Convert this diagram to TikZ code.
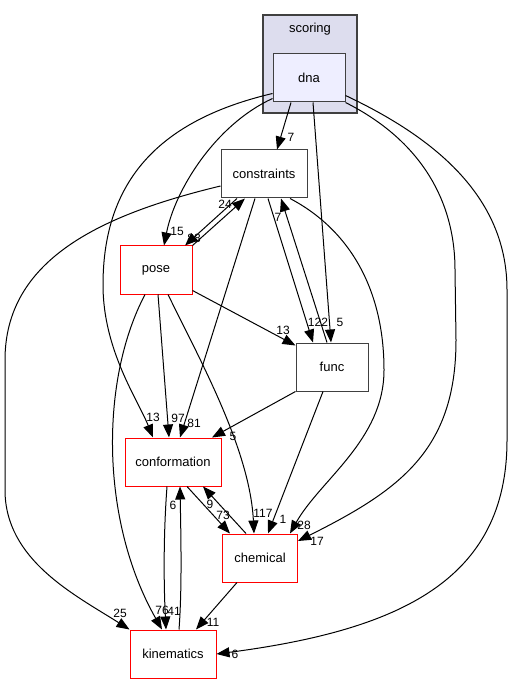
\documentclass[tikz,border=0pt]{standalone}
\usepackage{fontspec}
\setmainfont{Liberation Sans}
\usetikzlibrary{arrows.meta}

\definecolor{clusterfill}{HTML}{DDDDEE}
\definecolor{dirfill}{HTML}{EEEEFF}
\definecolor{dirline}{HTML}{404040}

\tikzset{
  dir/.style={draw=dirline, line width=1pt, fill=white, inner sep=0pt,
    minimum height=48pt, font=\fontsize{13}{15}\selectfont},
  reddir/.style={dir, draw=red},
  dep/.style={line width=1pt, -{Triangle[length=13pt,width=10pt]}},
  num/.style={inner sep=0pt, font=\fontsize{12}{14}\selectfont},
}

\begin{document}
\begin{tikzpicture}[x=1pt, y=-1pt]

  \useasboundingbox (0,0) rectangle (512,684);

  % the scoring folder
  \node[draw=dirline, line width=1.2pt, fill=clusterfill,
        minimum width=94pt, minimum height=98pt] (scoring) at (310,64) {};
  \node[font=\fontsize{13}{15}\selectfont] (scoringname) at (310,29) {scoring};

  \node[dir, fill=dirfill, minimum width=72pt] (dna)          at (309,78)  {dna}          ;
  \node[dir,    minimum width=86pt]            (constraints)  at (264,174) {constraints}  ;
  \node[reddir, minimum width=72pt]            (pose)         at (156,270) {pose}         ;
  \node[dir,    minimum width=72pt]            (func)         at (332,367) {func}         ;
  \node[reddir, minimum width=96pt]            (conformation) at (173,462) {conformation} ;
  \node[reddir, minimum width=75pt]            (chemical)     at (260,558) {chemical}     ;
  \node[reddir, minimum width=86pt]            (kinematics)   at (173,654) {kinematics}   ;

  % out of dna
  \draw[dep] ([xshift=-18pt]dna.south) -- ([xshift=13pt]constraints.north);
  \draw[dep] ([yshift=4pt]dna.south west)
    .. controls (215,125) and (175,190) .. ([xshift=8pt]pose.north);
  \draw[dep] ([yshift=9pt]dna.south west)
    .. controls (160,120) and (103,180) .. (103,285)
    .. controls (103,350) and (138,400) .. ([xshift=-20pt]conformation.north);
  \draw[dep] ([xshift=4pt]dna.south) -- ([xshift=-1pt]func.north);
  \draw[dep] (dna.south east)
    .. controls (420,140) and (455,200) .. (455,270) -- (456,340)
    .. controls (456,450) and (400,490) .. ([yshift=17pt]chemical.east);
  \draw[dep] ([yshift=7pt]dna.south east)
    .. controls (440,140) and (507,200) .. (507,290) -- (507,440)
    .. controls (507,580) and (400,630) .. (kinematics.east);

  % out of constraints
  \draw[dep] ([yshift=-12pt]constraints.west)
    .. controls (100,215) and (5,260) .. (5,360) -- (5,490)
    .. controls (5,560) and (75,595) .. (kinematics.north west);
  \draw[dep] ([xshift=-27pt]constraints.south) -- ([xshift=29pt]pose.north);
  \draw[dep] ([xshift=-9pt]constraints.south) -- ([xshift=7pt]conformation.north);
  \draw[dep] ([xshift=4pt]constraints.south) -- ([xshift=-19pt]func.north);
  \draw[dep] ([xshift=26pt]constraints.south)
    .. controls (350,230) and (384,290) .. (384,370)
    .. controls (384,440) and (320,480) .. ([xshift=30pt]chemical.north);

  % out of pose
  \draw[dep] (pose.north east) -- ([xshift=-19pt]constraints.south);
  \draw[dep] ([yshift=4pt]pose.south east) -- ([yshift=-3pt]func.north west);
  \draw[dep] ([xshift=2pt]pose.south) -- ([xshift=-4pt]conformation.north);
  \draw[dep] ([xshift=-11pt]pose.south)
    .. controls (100,380) and (100,520) .. ([xshift=-11pt]kinematics.north);
  \draw[dep] ([xshift=12pt]pose.south)
    .. controls (200,360) and (250,450) .. ([xshift=-6pt]chemical.north);

  % out of func
  \draw[dep] ([xshift=-5pt]func.north) -- ([xshift=17pt]constraints.south);
  \draw[dep] (func.south west) -- ([xshift=39pt]conformation.north);
  \draw[dep] ([xshift=-9pt]func.south) -- ([xshift=8pt]chemical.north);

  % conformation, chemical, kinematics
  \draw[dep] ([xshift=14pt]conformation.south) -- ([xshift=-30pt]chemical.north);
  \draw[dep] ([xshift=-14pt]chemical.north) -- ([xshift=30pt]conformation.south);
  \draw[dep] ([xshift=-6pt]conformation.south)
    .. controls (163,540) and (164,590) .. ([xshift=-7pt]kinematics.north);
  \draw[dep] ([xshift=6pt]kinematics.north)
    .. controls (182,590) and (181,540) .. ([xshift=7pt]conformation.south);
  \draw[dep] ([xshift=-23pt]chemical.south) -- ([xshift=23pt]kinematics.north);

  % dependency counts
  \node[num] (ndnacon)   at (291,137) {7}   ;
  \node[num] (ndnapose)  at (177,231) {15}  ;
  \node[num] (ndnaconf)  at (153,417) {13}  ;
  \node[num] (ndnafunc)  at (340,322) {5}   ;
  \node[num] (ndnachem)  at (317,541) {17}  ;
  \node[num] (ndnakin)   at (235,654) {6}   ;
  \node[num] (nconkin)   at (120,613) {25}  ;
  \node[num] (nconpose)  at (194,238) {88}  ;
  \node[num] (nposecon)  at (225,204) {24}  ;
  \node[num] (nconconf)  at (194,423) {81}  ;
  \node[num] (nconfunc)  at (318,322) {122} ;
  \node[num] (nfunccon)  at (278,217) {7}   ;
  \node[num] (nconchem)  at (304,525) {28}  ;
  \node[num] (nposefunc) at (283,330) {13}  ;
  \node[num] (nposeconf) at (178,418) {97}  ;
  \node[num] (nposekin)  at (162,610) {76}  ;
  \node[num] (nposechem) at (263,513) {117} ;
  \node[num] (nfuncconf) at (233,436) {5}   ;
  \node[num] (nfuncchem) at (283,519) {1}   ;
  \node[num] (nconfchem) at (223,515) {73}  ;
  \node[num] (nchemconf) at (210,504) {9}   ;
  \node[num] (nconfkin)  at (174,611) {41}  ;
  \node[num] (nkinconf)  at (173,505) {6}   ;
  \node[num] (nchemkin)  at (213,622) {11}  ;

\end{tikzpicture}
\end{document}
